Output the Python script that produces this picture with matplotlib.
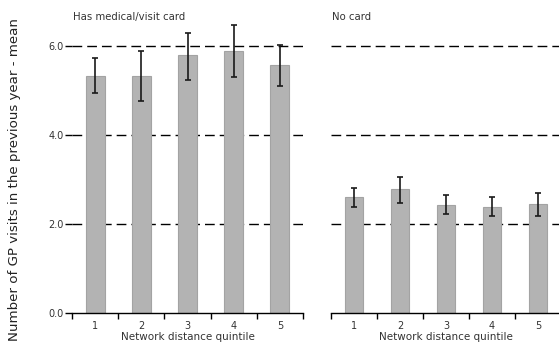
import matplotlib
matplotlib.use("Agg")
import matplotlib.pyplot as plt
import numpy as np

# Mean GP visits by network distance quintile, with confidence intervals
quintiles = ["1", "2", "3", "4", "5"]
panels = ["Has medical/visit card", "No card"]

card_mean = [5.33, 5.33, 5.78, 5.87, 5.56]
card_low = [4.93, 4.76, 5.24, 5.30, 5.09]
card_high = [5.72, 5.89, 6.28, 6.46, 6.02]

nocard_mean = [2.61, 2.77, 2.41, 2.38, 2.44]
nocard_low = [2.38, 2.46, 2.21, 2.17, 2.17]
nocard_high = [2.80, 3.06, 2.64, 2.61, 2.69]

y_ticks = [0.0, 2.0, 4.0, 6.0]
y_label = "Number of GP visits in the previous year - mean"
x_label = "Network distance quintile"

W, H = 559, 352
fig = plt.figure(figsize=(W / 100, H / 100), dpi=100)
plt.rcParams["font.family"] = ["DejaVu Sans"]

y0_px = 312.7
px_per_unit = 44.5
ymax = 7.0
top_px = y0_px - ymax * px_per_unit
ax_h_px = y0_px - top_px


def make_axes(x0, x1):
    return fig.add_axes([x0 / W, 1 - y0_px / H, (x1 - x0) / W, ax_h_px / H])


ax_left = make_axes(72, 303)
ax_right = make_axes(331, 561)

text_col = "#333333"
data = [
    (ax_left, panels[0], card_mean, card_low, card_high),
    (ax_right, panels[1], nocard_mean, nocard_low, nocard_high),
]

for i, (ax, title, mean, low, high) in enumerate(data):
    x = np.arange(1, len(quintiles) + 1)
    mean = np.array(mean)
    low = np.array(low)
    high = np.array(high)
    for yt in y_ticks[1:]:
        ax.axhline(yt, color="black", lw=1.0, linestyle=(0, (7, 3.6)), zorder=1)
    ax.bar(x, mean, width=0.41, color="#b3b3b3", edgecolor="#a3a3a3",
           linewidth=0.8, zorder=2)
    ax.errorbar(x, mean, yerr=[mean - low, high - mean], fmt="none",
                ecolor="#1a1a1a", elinewidth=1.2, capsize=2.3, capthick=1.2,
                zorder=3)
    ax.set_xlim(0.5, 5.5)
    ax.set_ylim(0, ymax)
    for s in ["top", "right", "left"]:
        ax.spines[s].set_visible(False)
    ax.spines["bottom"].set_linewidth(1.0)
    ax.spines["bottom"].set_color("black")
    ax.set_xticks(x)
    ax.set_xticklabels(quintiles, fontsize=7, color=text_col)
    ax.set_xticks(np.arange(0.5, 5.6, 1.0), minor=True)
    ax.tick_params(axis="x", which="major", length=0, pad=6)
    ax.tick_params(axis="x", which="minor", length=4.5, width=1.0, color="black")
    ax.set_xlabel(x_label, fontsize=7.5, color=text_col, labelpad=1)
    if i == 0:
        ax.set_yticks(y_ticks)
        ax.set_yticklabels([f"{v:.1f}" for v in y_ticks], fontsize=7, color=text_col)
        ax.tick_params(axis="y", length=5, width=1.0, color="black", pad=1)
        ax.set_ylabel(y_label, fontsize=9.6, color="#222222")
        ax.yaxis.set_label_coords((21 - 72) / 231, (y0_px - 179.5) / ax_h_px)
    else:
        ax.set_yticks([])
    ax.text(0.004, (y0_px - 17) / ax_h_px, title, transform=ax.transAxes,
            fontsize=7.3, color=text_col, ha="left", va="center")

fig.savefig("out.png", dpi=100)
